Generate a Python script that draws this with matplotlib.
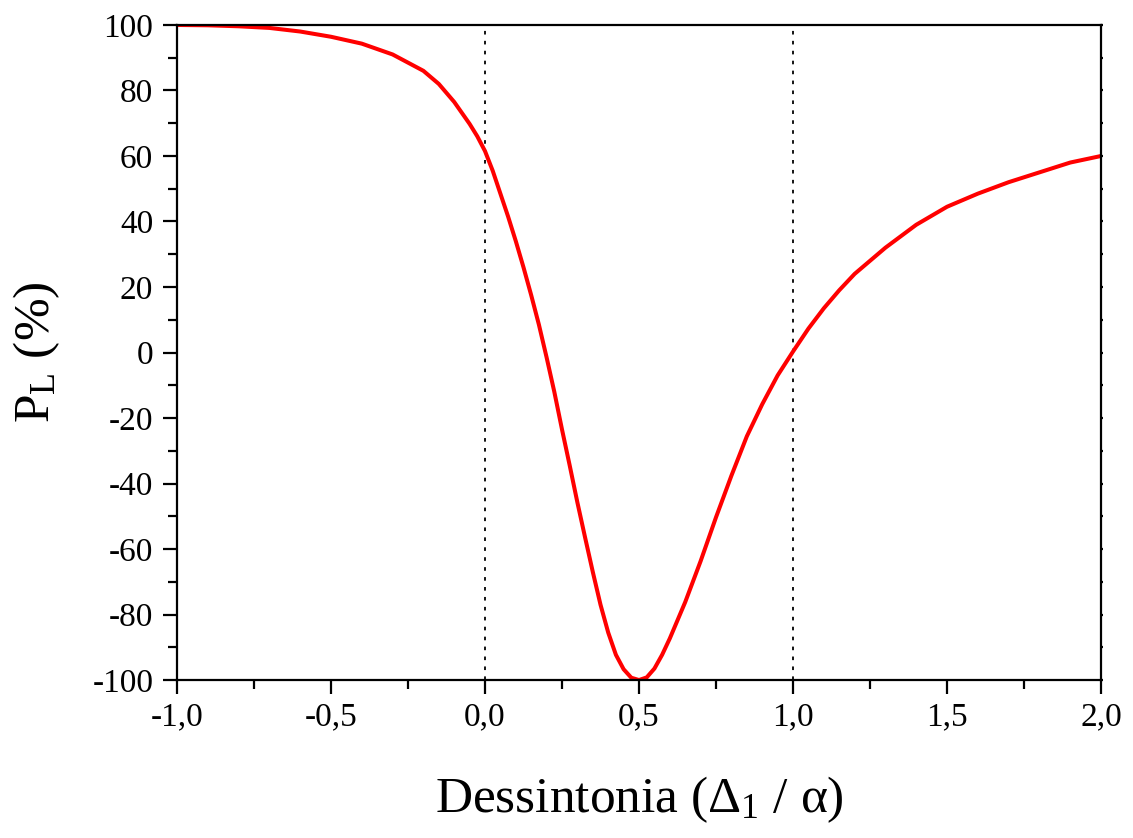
import matplotlib
matplotlib.use('Agg')
import matplotlib.pyplot as plt
from matplotlib.ticker import MultipleLocator, FuncFormatter

# curve: detuning (Delta_1 / alpha) vs P_L (%)
detuning = [-1.00, -0.90, -0.80, -0.70, -0.60, -0.50, -0.40, -0.30, -0.20, -0.15,
            -0.10, -0.05, -0.025, 0.00, 0.025, 0.05, 0.075, 0.10, 0.125, 0.15,
            0.175, 0.20, 0.225, 0.25, 0.275, 0.30, 0.325, 0.35, 0.375, 0.40,
            0.425, 0.45, 0.475, 0.50, 0.525, 0.55, 0.575, 0.60, 0.65, 0.70,
            0.75, 0.80, 0.85, 0.90, 0.95, 1.00, 1.05, 1.10, 1.15, 1.20,
            1.30, 1.40, 1.50, 1.60, 1.70, 1.80, 1.90, 2.00]
p_l = [100.0, 99.9, 99.6, 99.1, 98.0, 96.4, 94.3, 91.0, 86.0, 82.0,
       76.5, 69.8, 66.0, 61.5, 55.5, 48.5, 41.5, 34.0, 26.0, 17.5,
       8.5, -1.5, -12.0, -23.5, -34.5, -45.8, -56.5, -67.0, -77.0, -85.5,
       -92.3, -96.7, -99.3, -100.0, -99.2, -96.5, -92.3, -87.3, -76.2, -63.7,
       -50.3, -37.6, -25.6, -15.8, -7.0, 0.3, 7.3, 13.5, 19.0, 24.0,
       32.0, 39.0, 44.5, 48.5, 52.0, 55.0, 58.0, 60.0]
guide_x = [0.0, 1.0]

plt.rcParams['font.family'] = ['Liberation Serif', 'DejaVu Serif']
plt.rcParams['mathtext.fontset'] = 'custom'
plt.rcParams['mathtext.rm'] = 'Liberation Serif'
plt.rcParams['mathtext.it'] = 'Liberation Serif'
plt.rcParams['axes.unicode_minus'] = False

fig = plt.figure(figsize=(11.33, 8.38), dpi=100)
ax = fig.add_axes([0.1562, 0.1885, 0.8156, 0.7817])

for gx in guide_x:
    ax.axvline(gx, color='black', lw=1.3, linestyle=(0, (2, 3.5)))
ax.plot(detuning, p_l, color='red', lw=2.9, solid_joinstyle='round')

ax.set_xlim(-1, 2)
ax.set_ylim(-100, 100)
ax.xaxis.set_major_locator(MultipleLocator(0.5))
ax.xaxis.set_minor_locator(MultipleLocator(0.25))
ax.yaxis.set_major_locator(MultipleLocator(20))
ax.yaxis.set_minor_locator(MultipleLocator(10))
ax.xaxis.set_major_formatter(FuncFormatter(lambda v, p: '{:.1f}'.format(v).replace('.', ',')))
ax.yaxis.set_major_formatter(FuncFormatter(lambda v, p: '{:d}'.format(int(round(v)))))

for s in ax.spines.values():
    s.set_linewidth(1.6)
ax.tick_params(which='major', direction='out', length=10, width=1.6, labelsize=24)
ax.tick_params(which='minor', direction='out', length=6.5, width=1.6)
ax.tick_params(axis='x', which='major', pad=6)
ax.tick_params(axis='y', which='major', pad=7)
ax.tick_params(which='both', right=True, top=False)
ax.tick_params(axis='y', which='both', labelright=False)
# right side only has tiny stubs
for t in ax.yaxis.get_major_ticks() + ax.yaxis.get_minor_ticks():
    t.tick2line.set_markersize(1.5)

ax.set_xlabel('Dessintonia (Δ$_1$ / α)', fontsize=37, labelpad=30)
ax.set_ylabel('P$_{\\mathrm{L}}$ (%)', fontsize=37, labelpad=22)

fig.savefig('out.png', dpi=100)
